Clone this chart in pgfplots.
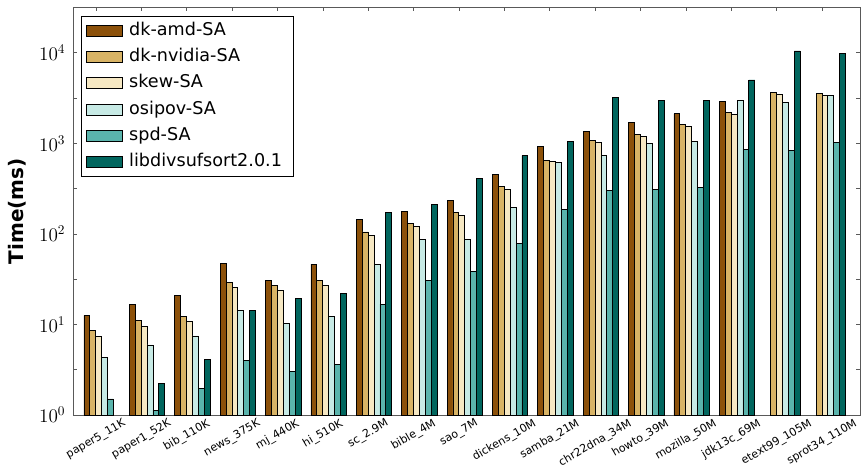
\documentclass[border=0pt]{standalone}
\usepackage{pgfplots}
\pgfplotsset{compat=1.18}
\usepackage{fontspec}
\setmainfont{DejaVu Sans}
\definecolor{cA}{HTML}{8C510A}
\definecolor{cB}{HTML}{D8B365}
\definecolor{cC}{HTML}{F6E8C3}
\definecolor{cD}{HTML}{C7EAE5}
\definecolor{cE}{HTML}{5AB4AC}
\definecolor{cF}{HTML}{01665E}
\newcommand{\rl}[1]{\rotatebox{30}{#1}}
\pgfplotsset{mybar/.style={fill=#1, draw=black, line width=0.6pt,
  legend image code/.code={\draw[fill=#1,draw=black,line width=0.6pt] (0pt,-4.1pt) rectangle (27pt,4.1pt);}}}
\begin{document}
\begin{tikzpicture}
\begin{axis}[
  name=ax,
  scale only axis, width=590.25pt, height=306pt,
  xmin=-0.6256, xmax=16.709,
  ymode=log, ymin=1, ymax=31623,
  ybar=0pt, bar width=0.13,
  axis line style={black!65, line width=0.7pt},
  tick style={black!65, line width=0.6pt},
  major tick length=3pt,
  tick align=inside,
  xtick={-0.1256,0.8744,1.8744,2.8744,3.8744,4.8744,5.8744,6.8744,7.8744,8.8744,9.8744,10.8744,11.8744,12.8744,13.8744,14.8744,15.8744},
  xticklabels={\rl{paper5\_11K},\rl{paper1\_52K},\rl{bib\_110K},\rl{news\_375K},\rl{mj\_440K},\rl{hi\_510K},\rl{sc\_2.9M},\rl{bible\_4M},\rl{sao\_7M},\rl{dickens\_10M},\rl{samba\_21M},\rl{chr22dna\_34M},\rl{howto\_39M},\rl{mozilla\_50M},\rl{jdk13c\_69M},\rl{etext99\_105M},\rl{sprot34\_110M}},
  x tick label style={font=\fontsize{8.3}{10}\selectfont, anchor=north, inner sep=0.5pt, yshift=-1.5pt},
  ytick={1,3.1623,10,31.623,100,316.23,1000,3162.3,10000},
  yticklabels={$10^{0}$,{},$10^{1}$,{},$10^{2}$,{},$10^{3}$,{},$10^{4}$},
  y tick label style={font=\fontsize{14}{16}\selectfont, xshift=-2.5pt},
  ylabel={Time(ms)},
  ylabel style={font=\fontsize{15}{18}\selectfont\bfseries, at={(axis description cs:-0.0719,0.5)}, anchor=center},
  legend cell align=left,
  legend style={at={(0.0094,0.9787)}, anchor=north west, draw=black, line width=0.6pt, fill=white,
    font=\fontsize{13.2}{15.6}\selectfont, inner xsep=4pt, inner ysep=3.5pt, row sep=4.6pt,
    nodes={inner ysep=1.5pt, inner xsep=4.5pt, text height=9.5pt, text depth=2.5pt}},
]
\addplot[mybar=cA] coordinates {(0,12.6)(1,16.8)(2,20.8)(3,47)(4,30.7)(5,46.5)(6,144)(7,177)(8,234)(9,456)(10,921)(11,1337)(12,1680)(13,2110)(14,2864)};
\addlegendentry{dk-amd-SA}
\addplot[mybar=cB] coordinates {(0,8.58)(1,11.2)(2,12.2)(3,29.4)(4,27.3)(5,30.5)(6,105)(7,129)(8,171)(9,331)(10,650)(11,1072)(12,1239)(13,1596)(14,2166)(15,3597)(16,3562)};
\addlegendentry{dk-nvidia-SA}
\addplot[mybar=cC] coordinates {(0,7.36)(1,9.49)(2,10.8)(3,25.9)(4,24.0)(5,26.9)(6,95.5)(7,121)(8,159)(9,309)(10,625)(11,1019)(12,1178)(13,1517)(14,2057)(15,3421)(16,3385)};
\addlegendentry{skew-SA}
\addplot[mybar=cD] coordinates {(0,4.32)(1,5.95)(2,7.48)(3,14.3)(4,10.4)(5,12.2)(6,46.1)(7,87)(8,87)(9,196)(10,609)(11,727)(12,993)(13,1038)(14,2937)(15,2812)(16,3385)};
\addlegendentry{osipov-SA}
\addplot[mybar=cE] coordinates {(0,1.51)(1,1.14)(2,1.97)(3,4.01)(4,3.03)(5,3.65)(6,16.8)(7,30.7)(8,38.9)(9,78.6)(10,186)(11,299)(12,307)(13,323)(14,860)(15,826)(16,1012)};
\addlegendentry{spd-SA}
\addplot[mybar=cF] coordinates {(1,2.25)(2,4.14)(3,14.3)(4,19.5)(5,21.9)(6,173)(7,211)(8,406)(9,733)(10,1038)(11,3170)(12,2937)(13,2937)(14,5000)(15,10430)(16,9750)};
\addlegendentry{libdivsufsort2.0.1}
\end{axis}
\pgfresetboundingbox
\path[use as bounding box] ([xshift=-55pt,yshift=-40.5pt]ax.south west) rectangle ([xshift=1.5pt,yshift=5.5pt]ax.north east);
\end{tikzpicture}
\end{document}
